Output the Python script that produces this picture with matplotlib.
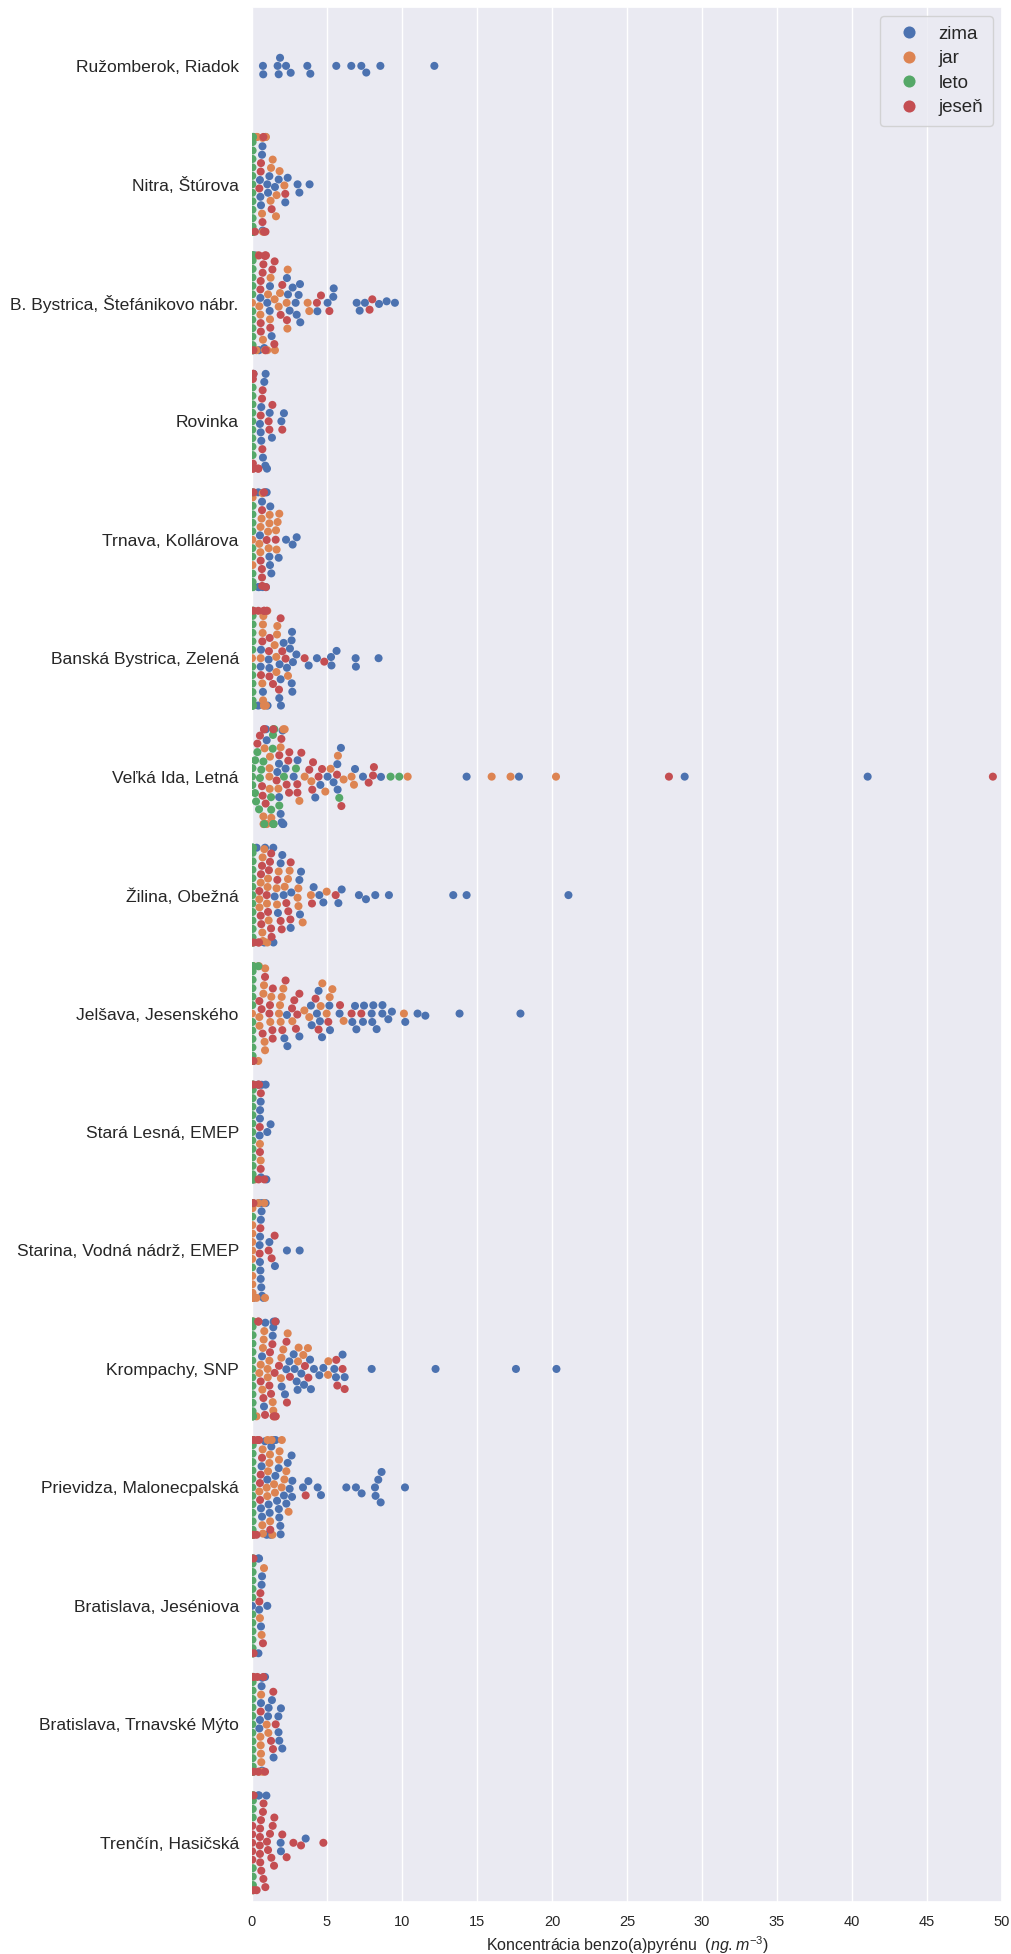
import warnings
import pandas as pd
import matplotlib
matplotlib.use('Agg')
import matplotlib.pyplot as plt
import seaborn as sns

warnings.filterwarnings('ignore')

# stanice a rocne obdobia
stanice = ['Ružomberok, Riadok', 'Nitra, Štúrova', 'B. Bystrica, Štefánikovo nábr.',
           'Rovinka', 'Trnava, Kollárova', 'Banská Bystrica, Zelená', 'Veľká Ida, Letná',
           'Žilina, Obežná', 'Jelšava, Jesenského', 'Stará Lesná, EMEP',
           'Starina, Vodná nádrž, EMEP', 'Krompachy, SNP', 'Prievidza, Malonecpalská',
           'Bratislava, Jeséniova', 'Bratislava, Trnavské Mýto', 'Trenčín, Hasičská']
obdobia = ['zima', 'jar', 'leto', 'jeseň']
x_ticks = [0, 5, 10, 15, 20, 25, 30, 35, 40, 45, 50]

# koncentracie benzo(a)pyrenu [ng/m3], odcitane z grafu
ruzomberok = {
    'zima': [0.73, 0.75, 1.71, 1.78, 1.87, 2.27, 2.58, 3.69, 3.89, 5.62, 6.62, 7.29, 7.62, 8.56, 12.16],
    'jar': [], 'leto': [], 'jeseň': []}
nitra = {
    'zima': [0.1, 0.9, 0.7, 0.67, 0.6, 0.56, 0.53, 0.71, 1.16, 2.38, 1.02, 3.16, 1.53, 3.04, 3.84, 1.07, 2.22, 1.78],
    'jar': [0.35, 0.3, 0.73, 0.71, 0.67, 1.38, 1.27, 1.84, 1.64, 0.93, 2.16, 1.6, 1.24],
    'leto': [0.02, 0.03, 0.05, 0.04, 0.03, 0.06, 0.02, 0.04, 0.05, 0.03, 0.04, 0.06, 0.02, 0.05, 0.03, 0.04],
    'jeseň': [0.7, 0.9, 0.2, 0.8, 0.49, 0.58, 0.6, 0.76, 2.22, 1.31]}
bb_stefanikovo = {
    'zima': [0.82, 0.56, 0.47, 1.18, 1.02, 1.2, 1.31, 2.71, 3.2, 2.98, 2.51, 4.36, 2.91, 5.04, 3.11,
             5.42, 5.45, 3.22, 2.33, 2.4, 7.18, 6.98, 7.53, 8.47, 8.98, 9.53, 0.2],
    'jar': [0.3, 0.73, 0.49, 0.56, 1.53, 1.24, 1.2, 1.02, 1.07, 2.38, 1.78, 3.82, 1.87, 3.71, 2.31,
            1.51, 2.36, 0.0, 0.36, 0.87],
    'leto': [0.02, 0.03, 0.05, 0.04, 0.03, 0.06, 0.02, 0.04, 0.05, 0.03, 0.04, 0.06, 0.02, 0.05, 0.03, 0.04],
    'jeseň': [0.1, 0.87, 0.58, 0.59, 0.47, 0.56, 0.58, 0.71, 0.76, 0.93, 0.91, 1.22, 2.33, 1.51, 2.02,
              5.16, 1.36, 4.33, 1.49, 4.6, 1.91, 7.84, 8.02, 0.87]}
rovinka = {
    'zima': [0.1, 0.91, 0.89, 0.73, 0.62, 0.53, 0.58, 0.62, 0.82, 1.33, 1.0, 1.96, 2.13, 1.18],
    'jar': [],
    'leto': [0.02, 0.03, 0.02, 0.04, 0.03, 0.02, 0.04, 0.03, 0.02],
    'jeseň': [0.42, 0.06, 0.07, 0.06, 0.08, 0.07, 0.67, 0.58, 0.69, 0.71, 1.16, 2.02, 1.11, 1.36, 0.1, 0.42]}
trnava = {
    'zima': [0.42, 0.53, 0.47, 0.67, 1.22, 0.98, 0.93, 1.16, 1.2, 1.29, 1.78, 2.27, 2.71, 2.98, 0.42, 0.71, 0.89],
    'jar': [0.71, 0.02, 0.03, 0.04, 0.64, 0.56, 0.49, 0.57, 1.18, 1.16, 1.07, 1.11, 1.82, 1.71, 1.6, 1.64],
    'leto': [0.02, 0.03, 0.05, 0.04, 0.03, 0.02, 0.04, 0.05, 0.03, 0.04, 0.02],
    'jeseň': [0.8, 0.93, 0.67, 0.68, 0.58, 0.66, 0.67, 0.98, 1.58, 0.1]}
bb_zelena = {
    'zima': [0.42, 0.6, 0.58, 0.73, 1.91, 1.82, 1.16, 1.11, 1.04, 1.84, 1.93, 2.69, 2.64, 2.33, 2.96,
             2.11, 2.65, 3.78, 2.53, 4.33, 5.27, 5.3, 5.64, 6.91, 6.93, 8.44, 2.73, 2.67],
    'jar': [0.0, 0.8, 0.93, 0.76, 0.71, 0.69, 0.58, 0.73, 0.74, 0.8, 1.67, 1.02, 1.62, 1.51, 1.63, 1.69, 2.4],
    'leto': [0.02, 0.03, 0.05, 0.04, 0.03, 0.06, 0.02, 0.04, 0.05, 0.03, 0.04, 0.06, 0.02, 0.05, 0.03],
    'jeseň': [0.8, 0.69, 0.6, 1.16, 1.8, 1.13, 1.18, 1.4, 1.91, 2.02, 3.51, 4.82, 2.24, 0.1, 0.42, 0.81, 0.98]}
velka_ida = {
    'zima': [0.8, 2.04, 1.8, 2.24, 1.81, 1.69, 0.98, 2.78, 3.04, 4.56, 4.22, 5.04, 5.44, 5.71, 5.69, 5.93,
             6.87, 7.4, 8.6, 14.31, 17.8, 28.85, 41.05, 2.09, 0.93, 1.91, 1.98, 2.05],
    'jar': [1.18, 0.84, 0.76, 2.18, 1.2, 3.16, 3.96, 3.51, 4.89, 5.24, 5.73, 6.11, 6.64, 6.8, 10.38,
            15.98, 17.24, 20.27, 1.16, 1.29, 1.76, 1.91, 0.98, 1.42, 2.09, 0.77, 1.17],
    'leto': [0.0, 0.02, 0.03, 0.2, 0.21, 0.27, 0.36, 0.47, 0.53, 0.62, 0.76, 0.82, 1.27, 1.28, 1.38, 1.4,
             1.42, 1.43, 1.44, 1.49, 2.13, 2.93, 5.82, 9.24, 9.82, 1.82],
    'jeseň': [2.47, 0.91, 1.82, 1.96, 3.02, 3.03, 4.07, 4.67, 3.29, 3.82, 4.02, 4.44, 5.96, 5.67, 7.78,
              8.07, 8.13, 27.8, 49.4, 0.67, 0.71, 0.8, 0.36, 0.53, 1.42, 2.31, 2.42, 2.49, 0.81, 1.64]}
zilina = {
    'zima': [0.31, 0.82, 2.02, 1.91, 1.73, 1.51, 1.42, 1.43, 2.62, 2.58, 3.2, 2.11, 3.16, 3.27, 4.76,
             4.49, 5.76, 5.98, 4.11, 7.13, 7.6, 8.22, 9.13, 13.42, 14.31, 21.1, 0.87],
    'jar': [0.82, 0.69, 0.49, 0.5, 0.58, 0.71, 0.73, 1.11, 1.04, 1.0, 1.02, 1.07, 1.64, 1.67, 1.78, 2.18,
            2.51, 2.4, 3.38, 3.09, 3.04, 3.1, 3.93, 4.98],
    'leto': [0.02, 0.03, 0.05, 0.04, 0.03, 0.06, 0.02, 0.04, 0.05, 0.03, 0.04, 0.06, 0.02, 0.05, 0.03, 0.04],
    'jeseň': [0.67, 0.62, 0.58, 0.47, 0.49, 0.6, 1.31, 1.27, 1.13, 1.07, 0.98, 1.2, 1.28, 1.69, 1.91, 1.98,
              2.42, 2.56, 2.29, 2.58, 4.0, 5.58, 0.1, 0.42]}
jelsava = {
    'zima': [2.33, 2.16, 2.36, 3.16, 3.93, 3.98, 4.44, 4.33, 4.53, 4.67, 5.2, 5.16, 5.84, 6.69, 6.96, 6.87,
             7.47, 7.4, 7.98, 8.02, 8.31, 8.09, 8.69, 8.7, 9.09, 9.33, 10.22, 11.04, 11.56, 13.84, 17.9],
    'jar': [0.42, 0.0, 0.87, 0.88, 0.8, 0.47, 0.49, 0.5, 0.76, 0.84, 1.22, 1.29, 1.91, 1.87, 1.8, 1.98,
            2.09, 2.69, 3.49, 3.82, 4.58, 4.69, 4.98, 5.18, 5.36, 6.11, 10.13, 0.1],
    'leto': [0.02, 0.03, 0.05, 0.04, 0.03, 0.06, 0.02, 0.04, 0.05, 0.03, 0.04, 0.06, 0.02, 0.05, 0.03, 0.42],
    'jeseň': [0.1, 0.64, 0.49, 0.71, 0.87, 1.38, 1.36, 1.16, 1.2, 1.39, 2.02, 2.24, 2.93, 2.82, 2.67, 3.02,
              3.16, 4.24, 4.44, 5.09, 5.87, 6.64, 7.29]}
stara_lesna = {
    'zima': [0.42, 0.64, 0.6, 0.53, 0.54, 0.51, 1.24, 0.96, 0.91, 1.02, 0.1, 0.58],
    'jar': [0.2, 0.58, 0.53],
    'leto': [0.02, 0.03, 0.05, 0.04, 0.03, 0.06, 0.02, 0.04, 0.05, 0.03, 0.04, 0.06, 0.02, 0.05, 0.03],
    'jeseň': [0.1, 0.53, 0.47, 0.44, 0.52, 0.58, 0.59, 0.42, 0.82]}
starina = {
    'zima': [0.64, 0.67, 0.58, 0.56, 0.53, 0.54, 0.47, 0.51, 0.59, 0.62, 0.68, 1.53, 1.16, 0.91, 2.33, 3.18,
             0.1, 0.76],
    'jar': [0.3, 0.82, 0.02, 0.01, 0.03, 0.02, 0.04, 0.01, 0.03, 0.02, 0.01, 0.03, 0.02, 0.04, 0.42, 0.87],
    'leto': [0.02, 0.03, 0.01],
    'jeseň': [0.1, 0.51, 0.56, 1.51, 1.11, 1.31]}
krompachy = {
    'zima': [1.58, 0.8, 0.67, 0.89, 1.38, 1.42, 1.44, 2.2, 1.98, 2.29, 2.84, 2.78, 2.49, 2.98, 3.04, 3.29,
             3.47, 3.87, 3.93, 4.13, 4.76, 4.49, 5.49, 5.6, 6.04, 6.18, 7.98, 12.24, 17.6, 20.3],
    'jar': [0.3, 1.38, 1.04, 0.69, 0.49, 0.58, 0.73, 0.78, 0.82, 1.44, 1.16, 1.58, 1.05, 1.42, 1.93, 1.96,
            2.09, 2.38, 3.07, 3.11, 3.42, 3.73, 5.07, 5.09, 0.1],
    'leto': [0.02, 0.03, 0.05, 0.04, 0.03, 0.06, 0.02, 0.04, 0.05, 0.03, 0.04, 0.06, 0.02, 0.05, 0.03, 0.04],
    'jeseň': [0.42, 0.87, 0.76, 0.58, 1.51, 1.27, 1.16, 1.2, 1.36, 1.45, 1.56, 2.33, 1.8, 2.3, 2.53, 3.76,
              3.53, 5.69, 6.18, 6.04, 5.62, 0.43, 1.57]}
prievidza = {
    'zima': [0.64, 0.67, 1.24, 1.18, 1.11, 1.02, 1.29, 1.91, 1.82, 1.78, 1.67, 1.56, 1.42, 1.57, 1.79, 2.29,
             1.89, 2.38, 2.51, 2.13, 2.69, 2.64, 2.67, 4.6, 3.4, 3.76, 4.38, 6.29, 6.93, 7.31, 8.24, 8.58,
             8.2, 8.42, 8.64, 10.2, 0.87, 0.98, 0.6],
    'jar': [1.31, 0.71, 0.49, 0.69, 0.73, 1.04, 1.02, 0.98, 1.07, 1.16, 1.2, 1.21, 1.47, 1.53, 1.8, 1.84,
            2.44, 2.16, 1.98, 1.99, 2.29, 1.36],
    'leto': [0.02, 0.03, 0.05, 0.04, 0.03, 0.06, 0.02, 0.04, 0.05, 0.03, 0.04, 0.06, 0.02, 0.05, 0.03],
    'jeseň': [0.1, 0.3, 0.67, 0.58, 0.53, 0.47, 0.54, 1.22, 3.58, 0.11, 0.36]}
ba_jeseniova = {
    'zima': [0.42, 0.47, 0.0, 0.64, 0.6, 0.48, 0.67, 1.02, 0.43],
    'jar': [0.53, 0.64, 0.8],
    'leto': [0.02, 0.03, 0.05, 0.04, 0.03, 0.06, 0.02, 0.04, 0.05, 0.03, 0.04, 0.06, 0.02, 0.05, 0.03],
    'jeseň': [0.1, 0.73, 0.49, 0.56, 0.11]}
ba_trnavske_myto = {
    'zima': [0.64, 0.67, 0.6, 1.44, 1.33, 2.02, 1.11, 0.53, 1.76, 1.07, 1.93, 0.49, 1.77, 1.82, 0.68, 0.87],
    'jar': [0.71, 0.6, 0.56, 0.47, 0.98, 1.09, 0.58, 0.61, 0.62],
    'leto': [0.02, 0.03, 0.05, 0.04, 0.03, 0.06, 0.02, 0.04, 0.05, 0.03, 0.04, 0.06, 0.02, 0.05, 0.03],
    'jeseň': [0.1, 0.42, 0.87, 1.58, 1.42, 1.27, 0.58, 1.4, 0.11, 0.36, 0.76]}
trencin = {
    'zima': [0.47, 0.96, 1.91, 1.93, 3.58, 0.42],
    'jar': [],
    'leto': [0.05, 0.06, 0.05, 0.07, 0.06, 0.05, 0.07, 0.06, 0.05, 0.06],
    'jeseň': [0.1, 0.31, 0.01, 0.02, 0.01, 0.02, 0.01, 0.89, 0.76, 0.62, 0.53, 0.54, 0.53, 0.52, 0.55,
              0.6, 0.73, 0.77, 1.38, 1.2, 1.0, 1.07, 1.29, 1.49, 2.02, 1.47, 2.31, 2.76, 3.27, 4.76, 0.11]}

data_stanic = [ruzomberok, nitra, bb_stefanikovo, rovinka, trnava, bb_zelena, velka_ida, zilina,
               jelsava, stara_lesna, starina, krompachy, prievidza, ba_jeseniova, ba_trnavske_myto,
               trencin]

riadky = []
for st, d in zip(stanice, data_stanic):
    for ob in obdobia:
        for v in d[ob]:
            riadky.append({'stanica': st, 'obdobie': ob, 'BaP': v})
df = pd.DataFrame(riadky)

sns.set_theme(style='darkgrid')
plt.rcParams['font.family'] = ['Liberation Sans', 'DejaVu Sans']
plt.rcParams['mathtext.fontset'] = 'custom'
plt.rcParams['mathtext.rm'] = 'Liberation Sans'
plt.rcParams['mathtext.it'] = 'Liberation Sans:italic'

fig = plt.figure(figsize=(10.12, 19.54), dpi=100)
ax = fig.add_axes([0.249, 0.0266, 0.741, 0.970])
sns.swarmplot(data=df, x='BaP', y='stanica', hue='obdobie', order=stanice, hue_order=obdobia,
              palette='deep', size=5.8, ax=ax)
ax.set_xlim(0, 50)
ax.set_xticks(x_ticks)
ax.set_ylabel('')
ax.set_xlabel('Koncentrácia benzo(a)pyrénu  $(ng.m^{-3})$', fontsize=11.5, labelpad=4)
ax.tick_params(axis='y', labelsize=12.6)
ax.tick_params(axis='x', labelsize=10.5)
ax.legend(loc='upper right', fontsize=13.5, title=None, markerscale=1.5,
          borderpad=0.5, handletextpad=0.6, labelspacing=0.4)

fig.savefig('out.png', dpi=100)
